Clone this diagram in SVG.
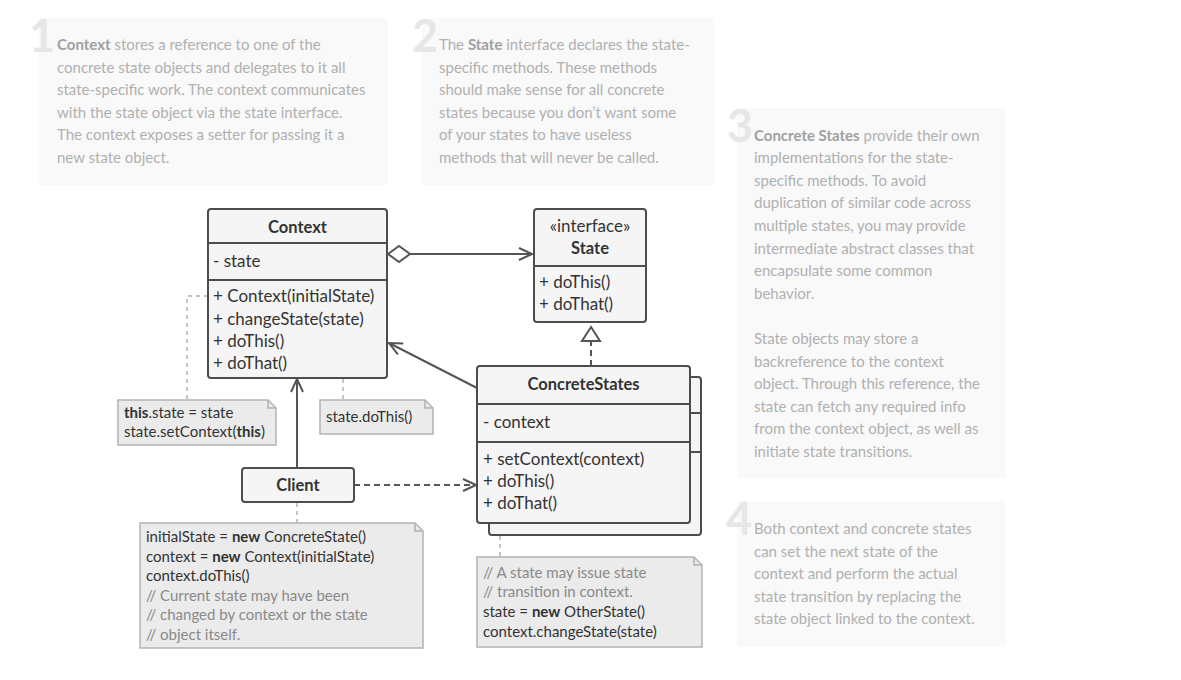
<svg xmlns="http://www.w3.org/2000/svg" width="1181" height="680" viewBox="0 0 1181 680">
<defs>
<style>
.ann{fill:#f9f9f9}
.num{font-family:Lato,"Liberation Sans",sans-serif;font-weight:bold;font-size:45px;fill:#e6e6e6}
.at{font-family:Lato,"Liberation Sans",sans-serif;font-size:15px;fill:#b0b0b0}
.at tspan.b{font-weight:bold;fill:#a0a0a0}
.box{fill:#f5f5f5;stroke:#4d4d4d;stroke-width:2}
.div{stroke:#4d4d4d;stroke-width:2;fill:none}
.ut{font-family:Lato,"Liberation Sans",sans-serif;font-size:17px;fill:#333}
.ttl{font-weight:bold;text-anchor:middle;font-size:16.5px}
.note{fill:#ebebeb;stroke:#b3b3b3;stroke-width:1.5}
.nt{font-family:Lato,"Liberation Sans",sans-serif;font-size:15px;fill:#333}
.cm{fill:#8a8a8a}
.b{font-weight:bold}
.ln{stroke:#555;stroke-width:2;fill:none}
.dash{stroke:#555;stroke-width:2;fill:none;stroke-dasharray:6,4}
.dot{stroke:#b3b3b3;stroke-width:1.5;fill:none;stroke-dasharray:4,4}
</style>
<marker id="open" markerWidth="16" markerHeight="16" refX="14" refY="8" orient="auto" markerUnits="userSpaceOnUse">
<path d="M1,2 L14,8 L1,14" fill="none" stroke="#555" stroke-width="2"/>
</marker>
</defs>
<rect width="1181" height="680" fill="#fff"/>

<g id="annotation1">
<rect class="ann" x="39" y="18" width="349" height="167"/>
<text class="num" x="29" y="52">1</text>
<text class="at" x="57" y="50"><tspan class="b">Context</tspan> stores a reference to one of the</text>
<text class="at" x="57" y="72.6">concrete state objects and delegates to it all</text>
<text class="at" x="57" y="95.2">state-specific work. The context communicates</text>
<text class="at" x="57" y="117.8">with the state object via the state interface.</text>
<text class="at" x="57" y="140.4">The context exposes a setter for passing it a</text>
<text class="at" x="57" y="163">new state object.</text>
</g>

<g id="annotation2">
<rect class="ann" x="422" y="18" width="292" height="167"/>
<text class="num" x="412" y="52">2</text>
<text class="at" x="439" y="50">The <tspan class="b">State</tspan> interface declares the state-</text>
<text class="at" x="439" y="72.6">specific methods. These methods</text>
<text class="at" x="439" y="95.2">should make sense for all concrete</text>
<text class="at" x="439" y="117.8">states because you don’t want some</text>
<text class="at" x="439" y="140.4">of your states to have useless</text>
<text class="at" x="439" y="163">methods that will never be called.</text>
</g>

<g id="annotation3">
<rect class="ann" x="737" y="108" width="269" height="370"/>
<text class="num" x="727" y="142">3</text>
<text class="at" x="754" y="140.6"><tspan class="b">Concrete States</tspan> provide their own</text>
<text class="at" x="754" y="163.2">implementations for the state-</text>
<text class="at" x="754" y="185.8">specific methods. To avoid</text>
<text class="at" x="754" y="208.4">duplication of similar code across</text>
<text class="at" x="754" y="231">multiple states, you may provide</text>
<text class="at" x="754" y="253.6">intermediate abstract classes that</text>
<text class="at" x="754" y="276.2">encapsulate some common</text>
<text class="at" x="754" y="298.8">behavior.</text>
<text class="at" x="754" y="344">State objects may store a</text>
<text class="at" x="754" y="366.6">backreference to the context</text>
<text class="at" x="754" y="389.2">object. Through this reference, the</text>
<text class="at" x="754" y="411.8">state can fetch any required info</text>
<text class="at" x="754" y="434.4">from the context object, as well as</text>
<text class="at" x="754" y="457">initiate state transitions.</text>
</g>

<g id="annotation4">
<rect class="ann" x="737" y="501" width="269" height="146"/>
<text class="num" x="726" y="535">4</text>
<text class="at" x="754" y="534">Both context and concrete states</text>
<text class="at" x="754" y="556.6">can set the next state of the</text>
<text class="at" x="754" y="579.2">context and perform the actual</text>
<text class="at" x="754" y="601.8">state transition by replacing the</text>
<text class="at" x="754" y="624.4">state object linked to the context.</text>
</g>

<g id="connectors">
<line class="ln" x1="410" y1="254" x2="532" y2="254" marker-end="url(#open)"/>
<path d="M388,254 L399,246 L410,254 L399,262 Z" fill="#fff" stroke="#555" stroke-width="2"/>
<line class="dash" x1="591" y1="366" x2="591" y2="341"/>
<path d="M591,327 L600,341 L582,341 Z" fill="#fff" stroke="#555" stroke-width="2"/>
<line class="ln" x1="477" y1="388" x2="389" y2="343" marker-end="url(#open)"/>
<line class="ln" x1="297" y1="468" x2="297" y2="379" marker-end="url(#open)"/>
<line class="dash" x1="354" y1="485" x2="476" y2="485" marker-end="url(#open)"/>
<path class="dot" d="M208,296 H187 V400"/>
<circle cx="303" cy="343" r="3.2" fill="none" stroke="#b3b3b3" stroke-width="1.5"/>
<path class="dot" d="M307,343 H343 V400"/>
<line class="dot" x1="297" y1="503" x2="297" y2="523"/>
<line class="dot" x1="500" y1="536" x2="500" y2="557"/>
</g>

<g id="context">
<rect class="box" x="208" y="209" width="179" height="169" rx="3"/>
<line class="div" x1="208" y1="243" x2="387" y2="243"/>
<line class="div" x1="208" y1="280" x2="387" y2="280"/>
<text class="ut ttl" x="297.5" y="233">Context</text>
<text class="ut" x="213" y="267">- state</text>
<text class="ut" x="213" y="302">+ Context(initialState)</text>
<text class="ut" x="213" y="325">+ changeState(state)</text>
<text class="ut" x="213" y="347">+ doThis()</text>
<text class="ut" x="213" y="369">+ doThat()</text>
</g>

<g id="state">
<rect class="box" x="534" y="209" width="112" height="113" rx="3"/>
<line class="div" x1="534" y1="266" x2="646" y2="266"/>
<text class="ut" x="590" y="232" text-anchor="middle">«interface»</text>
<text class="ut ttl" x="590" y="254">State</text>
<text class="ut" x="539" y="288">+ doThis()</text>
<text class="ut" x="539" y="310">+ doThat()</text>
</g>

<g id="concreteStates">
<rect class="box" x="489" y="377" width="212" height="158" rx="3"/>
<line class="div" x1="690" y1="413" x2="701" y2="413"/>
<line class="div" x1="690" y1="452" x2="701" y2="452"/>
<rect class="box" x="477" y="366" width="213" height="157" rx="3"/>
<line class="div" x1="477" y1="404" x2="690" y2="404"/>
<line class="div" x1="477" y1="442" x2="690" y2="442"/>
<text class="ut ttl" x="583.5" y="390">ConcreteStates</text>
<text class="ut" x="483" y="428">- context</text>
<text class="ut" x="483" y="465">+ setContext(context)</text>
<text class="ut" x="483" y="487">+ doThis()</text>
<text class="ut" x="483" y="509">+ doThat()</text>
</g>

<g id="client">
<rect class="box" x="242" y="468" width="112" height="34" rx="3"/>
<text class="ut ttl" x="298" y="491">Client</text>
</g>

<g id="note1">
<path class="note" d="M118,400 H268 L276,408 V445 H118 Z"/>
<path d="M268,400 V408 H276" fill="none" stroke="#b3b3b3" stroke-width="1.5"/>
<text class="nt" x="124" y="418"><tspan class="b">this</tspan>.state = state</text>
<text class="nt" x="124" y="437">state.setContext(<tspan class="b">this</tspan>)</text>
</g>

<g id="note2">
<path class="note" d="M320,400 H425 L433,408 V434 H320 Z"/>
<path d="M425,400 V408 H433" fill="none" stroke="#b3b3b3" stroke-width="1.5"/>
<text class="nt" x="326" y="422">state.doThis()</text>
</g>

<g id="note3">
<path class="note" d="M140,523 H415 L423,531 V648 H140 Z"/>
<path d="M415,523 V531 H423" fill="none" stroke="#b3b3b3" stroke-width="1.5"/>
<text class="nt" x="146" y="542">initialState = <tspan class="b">new</tspan> ConcreteState()</text>
<text class="nt" x="146" y="562">context = <tspan class="b">new</tspan> Context(initialState)</text>
<text class="nt" x="146" y="581">context.doThis()</text>
<text class="nt cm" x="146" y="601">// Current state may have been</text>
<text class="nt cm" x="146" y="620">// changed by context or the state</text>
<text class="nt cm" x="146" y="640">// object itself.</text>
</g>

<g id="note4">
<path class="note" d="M477,557 H694 L702,565 V647 H477 Z"/>
<path d="M694,557 V565 H702" fill="none" stroke="#b3b3b3" stroke-width="1.5"/>
<text class="nt cm" x="483" y="578">// A state may issue state</text>
<text class="nt cm" x="483" y="597">// transition in context.</text>
<text class="nt" x="483" y="617">state = <tspan class="b">new</tspan> OtherState()</text>
<text class="nt" x="483" y="637">context.changeState(state)</text>
</g>
</svg>
